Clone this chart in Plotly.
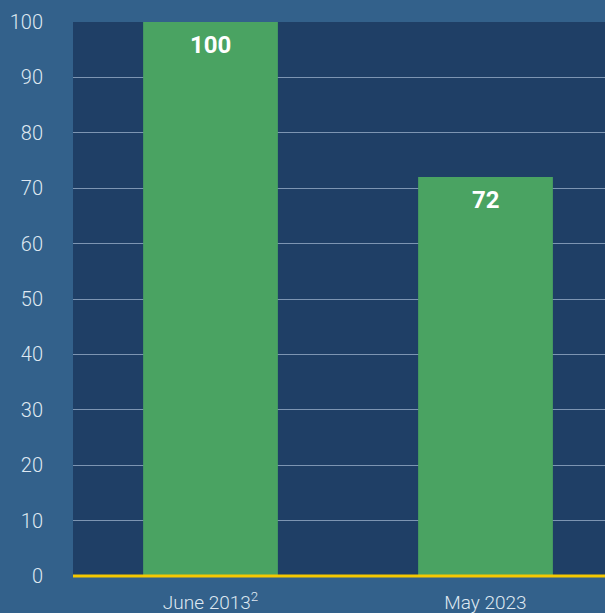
import plotly.graph_objects as go

categories = ["June 2013<sup>2</sup>", "May 2023"]
values = [100, 72]
y_ticks = [0, 10, 20, 30, 40, 50, 60, 70, 80, 90, 100]

fig = go.Figure()
fig.add_trace(go.Bar(
    x=categories, y=values,
    marker=dict(color="#4aa362", line=dict(width=0)),
    width=0.49,
    hoverinfo="skip",
))

for c, v in zip(categories, values):
    fig.add_annotation(
        x=c, y=v, xref="x", yref="y", text="<b>%d</b>" % v,
        showarrow=False, yanchor="top", yshift=-7,
        font=dict(family="Roboto", size=24, color="#ffffff"),
    )

# yellow baseline drawn above bars
fig.add_shape(type="line", xref="paper", yref="paper", x0=0, x1=1, y0=0, y1=0,
              line=dict(color="#f5c800", width=3), layer="above")

fig.update_layout(
    width=605, height=613,
    margin=dict(l=73, r=0, t=22, b=37),
    paper_bgcolor="#33618b",
    plot_bgcolor="#1f3f66",
    showlegend=False,
    font=dict(family="Roboto", color="#dfe8f1"),
    xaxis=dict(
        type="category",
        range=[-0.5, 1.4345],
        showgrid=False, showline=False, ticks="",
        tickfont=dict(family="Roboto", size=19, color="#dfe8f1", weight=300),
        ticklabelstandoff=13,
        fixedrange=True,
    ),
    yaxis=dict(
        range=[0, 100],
        tickvals=y_ticks,
        showgrid=True, gridcolor="#7d95b2", gridwidth=1,
        zeroline=False,
        showline=False, ticks="",
        ticklabelstandoff=29,
        tickfont=dict(family="Roboto", size=20, color="#dfe8f1", weight=300),
        fixedrange=True,
    ),
)

fig.write_html("out.html", config={"displayModeBar": False},
               post_script="document.body.style.margin='0';document.body.style.overflow='hidden';")
